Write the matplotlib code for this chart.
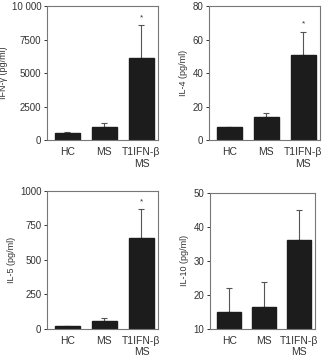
import matplotlib
matplotlib.use("Agg")
import matplotlib.pyplot as plt

plt.rcParams['font.family'] = ['Liberation Sans', 'DejaVu Sans']

groups = ["HC", "MS", "T1IFN-β\nMS"]

# cytokine means and upper error (SD) per group
ifng_mean = [500, 990, 6100]
ifng_err = [120, 260, 2480]
il4_mean = [8, 13.5, 50.5]
il4_err = [0, 2.8, 14.2]
il5_mean = [24, 58, 657]
il5_err = [0, 24, 210]
il10_mean = [14.9, 16.4, 36.1]
il10_err = [7.0, 7.3, 8.7]

# which bars get a significance star
ifng_star = [False, False, True]
il4_star = [False, False, True]
il5_star = [False, False, True]
il10_star = [False, False, False]


def draw_panel(ax, means, errs, stars, ylabel, ylim, ticks, ticklabels):
    x = list(range(len(means)))
    ax.errorbar(x, means, yerr=[[0] * len(errs), errs], fmt='none',
                ecolor='#555555', elinewidth=0.8, capsize=2.5, capthick=0.8, zorder=1)
    ax.bar(x, means, width=0.68, color='#1c1c1c', edgecolor='#1c1c1c', zorder=2)
    span = ylim[1] - ylim[0]
    for i in x:
        if stars[i]:
            ax.text(i, means[i] + errs[i] + 0.03 * span, '*', ha='center', va='bottom',
                    fontsize=6, color='#333333')
    ax.set_xlim(-0.55, 2.45)
    ax.set_ylim(ylim)
    ax.set_yticks(ticks)
    ax.set_yticklabels(ticklabels)
    ax.set_xticks(x)
    ax.set_xticklabels(groups)
    ax.set_ylabel(ylabel, fontsize=6.5, color='#333333', labelpad=3)
    ax.tick_params(axis='y', labelsize=7, colors='#333333', length=2.5, width=0.7, pad=1.5)
    ax.tick_params(axis='x', labelsize=7.5, colors='#333333', length=0, pad=5)
    for s in ax.spines.values():
        s.set_color('#777777')
        s.set_linewidth(0.8)


fig = plt.figure(figsize=(3.22, 3.59), dpi=100)

ax1 = fig.add_axes([0.146, 0.610, 0.345, 0.373])
draw_panel(ax1, ifng_mean, ifng_err, ifng_star, "IFN-γ (pg/ml)", (0, 10000),
           [0, 2500, 5000, 7500, 10000], ['0', '2500', '5000', '7500', '10 000'])

ax2 = fig.add_axes([0.649, 0.610, 0.345, 0.373])
draw_panel(ax2, il4_mean, il4_err, il4_star, "IL-4 (pg/ml)", (0, 80),
           [0, 20, 40, 60, 80], ['0', '20', '40', '60', '80'])

ax3 = fig.add_axes([0.146, 0.084, 0.345, 0.384])
draw_panel(ax3, il5_mean, il5_err, il5_star, "IL-5 (pg/ml)", (0, 1000),
           [0, 250, 500, 750, 1000], ['0', '250', '500', '750', '1000'])

ax4 = fig.add_axes([0.652, 0.084, 0.326, 0.379])
draw_panel(ax4, il10_mean, il10_err, il10_star, "IL-10 (pg/ml)", (10, 50),
           [10, 20, 30, 40, 50], ['10', '20', '30', '40', '50'])

fig.savefig("out.png", dpi=100)
